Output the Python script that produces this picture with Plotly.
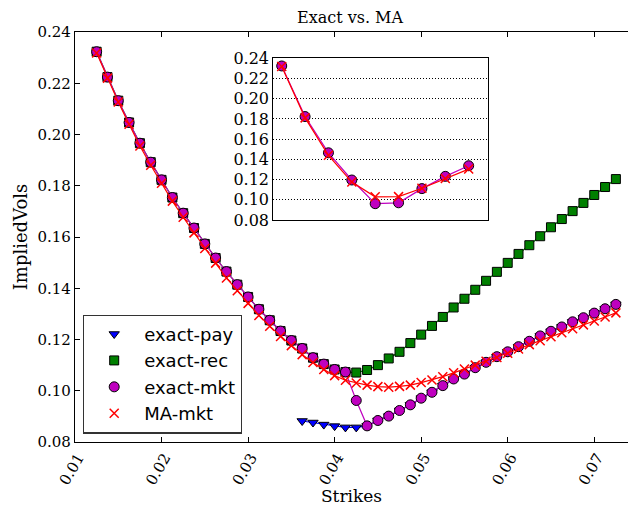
import plotly.graph_objects as go

strikes = [0.0125, 0.01375, 0.015, 0.01625, 0.0175, 0.01875, 0.02, 0.02125, 0.0225, 0.02375,
           0.025, 0.02625, 0.0275, 0.02875, 0.03, 0.03125, 0.0325, 0.03375, 0.035, 0.03625,
           0.0375, 0.03875, 0.04, 0.04125, 0.0425, 0.04375, 0.045, 0.04625, 0.0475, 0.04875,
           0.05, 0.05125, 0.0525, 0.05375, 0.055, 0.05625, 0.0575, 0.05875, 0.06, 0.06125,
           0.0625, 0.06375, 0.065, 0.06625, 0.0675, 0.06875, 0.07, 0.07125, 0.0725]

exact_rec = [0.2323, 0.2224, 0.2132, 0.2047, 0.1966, 0.1892, 0.1823, 0.1754, 0.1693, 0.1635,
             0.1573, 0.1518, 0.1465, 0.1414, 0.1366, 0.1318, 0.1275, 0.1233, 0.1196, 0.1165,
             0.1129, 0.1104, 0.1083, 0.1073, 0.1071, 0.1081, 0.1100, 0.1126, 0.1152, 0.1186,
             0.1219, 0.1253, 0.1288, 0.1325, 0.1359, 0.1394, 0.1429, 0.1464, 0.1499, 0.1534,
             0.1568, 0.1603, 0.1638, 0.1670, 0.1701, 0.1733, 0.1764, 0.1795, 0.1826]

exact_mkt = [0.2323, 0.2224, 0.2132, 0.2047, 0.1966, 0.1892, 0.1823, 0.1754, 0.1693, 0.1635,
             0.1573, 0.1518, 0.1465, 0.1414, 0.1366, 0.1318, 0.1275, 0.1233, 0.1196, 0.1165,
             0.1129, 0.1104, 0.1083, 0.1073, 0.0962, 0.0863, 0.0884, 0.0901, 0.0923, 0.0945,
             0.0971, 0.0994, 0.1020, 0.1046, 0.1065, 0.1090, 0.1111, 0.1133, 0.1152, 0.1172,
             0.1193, 0.1214, 0.1232, 0.1249, 0.1269, 0.1285, 0.1303, 0.1320, 0.1337]

exact_pay = [None] * 19 + [0.0882, 0.0876, 0.0868, 0.0862, 0.0857, 0.0857,
             0.0863, 0.0884, 0.0901, 0.0923, 0.0945,
             0.0971, 0.0994, 0.1020, 0.1046, 0.1065, 0.1090, 0.1111, 0.1133, 0.1152, 0.1172,
             0.1193, 0.1214, 0.1232, 0.1249, 0.1269, 0.1285, 0.1303, 0.1320, 0.1337]

ma_mkt = [0.2318, 0.2220, 0.2127, 0.2040, 0.1955, 0.1880, 0.1810, 0.1740, 0.1677, 0.1616,
          0.1555, 0.1498, 0.1440, 0.1390, 0.1341, 0.1294, 0.1252, 0.1212, 0.1176, 0.1141,
          0.1110, 0.1083, 0.1059, 0.1041, 0.1030, 0.1022, 0.1016, 0.1014, 0.1017, 0.1022,
          0.1032, 0.1042, 0.1055, 0.1070, 0.1085, 0.1100, 0.1115, 0.1130, 0.1146, 0.1163,
          0.1180, 0.1195, 0.1211, 0.1226, 0.1242, 0.1257, 0.1272, 0.1288, 0.1304]

x_ticks = [0.01, 0.02, 0.03, 0.04, 0.05, 0.06, 0.07]
y_ticks = [0.08, 0.10, 0.12, 0.14, 0.16, 0.18, 0.20, 0.22, 0.24]

BLUE, GREEN, MAG, RED = "#0000ff", "#008000", "#bf00bf", "#ff0000"
SERIF = "DejaVu Serif"
TITLE_FONT = "DejaVu Serif"

series = [
    ("exact-pay", exact_pay, BLUE, "triangle-down", 9),
    ("exact-rec", exact_rec, GREEN, "square", 9),
    ("exact-mkt", exact_mkt, MAG, "circle", 10),
    ("MA-mkt", ma_mkt, RED, "x-thin", 9),
]


def marker(col, sym, sz):
    if sym == "x-thin":
        return dict(symbol=sym, size=sz, line=dict(color=col, width=1.5), color=col)
    return dict(symbol=sym, size=sz, color=col, line=dict(color="black", width=1))


fig = go.Figure()
for name, vals, col, sym, sz in series:
    fig.add_trace(go.Scatter(x=strikes, y=vals, mode="lines", line=dict(color=col, width=1.2),
                             showlegend=False, legendgroup=name, hoverinfo="skip"))
    fig.add_trace(go.Scatter(x=strikes, y=vals, mode="markers", marker=marker(col, sym, sz),
                             name=name, legendgroup=name))

# inset: every 6th strike
for name, vals, col, sym, sz in series[2:]:
    fig.add_trace(go.Scatter(x=strikes[::6], y=vals[::6], mode="lines+markers",
                             line=dict(color=col, width=1.2), marker=marker(col, sym, sz),
                             xaxis="x2", yaxis="y2", showlegend=False))

fig.update_layout(
    width=628, height=506,
    margin=dict(l=75, r=0, t=32, b=62),
    paper_bgcolor="white", plot_bgcolor="white",
    title=dict(text="Exact vs. MA", x=350 / 628, xanchor="center", y=1 - 17 / 506, yanchor="middle",
               font=dict(family=TITLE_FONT, size=16, color="black")),
    xaxis=dict(range=[0.01, 0.0739], tickvals=x_ticks, ticktext=[f"{v:.2f}" for v in x_ticks],
               ticks="inside", ticklen=5, tickcolor="black", showgrid=False, zeroline=False,
               showline=True, linecolor="black", linewidth=1.2, mirror="ticks",
               tickangle=-60, ticklabelshift=3,
               tickfont=dict(family=SERIF, size=15, color="black"),
               title=dict(text="Strikes", font=dict(family=TITLE_FONT, size=17, color="black"), standoff=6)),
    yaxis=dict(range=[0.08, 0.24], tickvals=y_ticks, ticktext=[f"{v:.2f}" for v in y_ticks],
               ticks="inside", ticklen=5, tickcolor="black", showgrid=False, zeroline=False,
               showline=True, linecolor="black", linewidth=1.2,
               tickfont=dict(family=SERIF, size=15, color="black"),
               title=dict(text="ImpliedVols", font=dict(family=TITLE_FONT, size=18, color="black"), standoff=5)),
    xaxis2=dict(domain=[(273.3 - 75) / 553, (488.3 - 75) / 553], anchor="y2",
                range=[0.0098, 0.0788], showticklabels=False, ticks="", showgrid=False, zeroline=False,
                showline=True, linecolor="black", linewidth=1.2, mirror=True),
    yaxis2=dict(domain=[(444 - 221) / 412, (444 - 58.3) / 412], anchor="x2",
                range=[0.08, 0.24], tickvals=y_ticks, ticktext=[f"{v:.2f}" for v in y_ticks],
                ticks="", showgrid=True, gridcolor="black", griddash="1px,2px", gridwidth=1,
                zeroline=False, showline=True, linecolor="black", linewidth=1.2, mirror=True,
                tickfont=dict(family=SERIF, size=16, color="black")),
    legend=dict(x=(83 - 75) / 553, y=(444 - 316) / 412, xanchor="left", yanchor="top",
                bgcolor="white", bordercolor="#333333", borderwidth=1.2,
                font=dict(family="DejaVu Sans", size=18, color="black"),
                tracegroupgap=0, itemwidth=50),
)

fig.write_html("out.html", config={"displayModeBar": False},
               post_script="document.body.style.margin='0';")
